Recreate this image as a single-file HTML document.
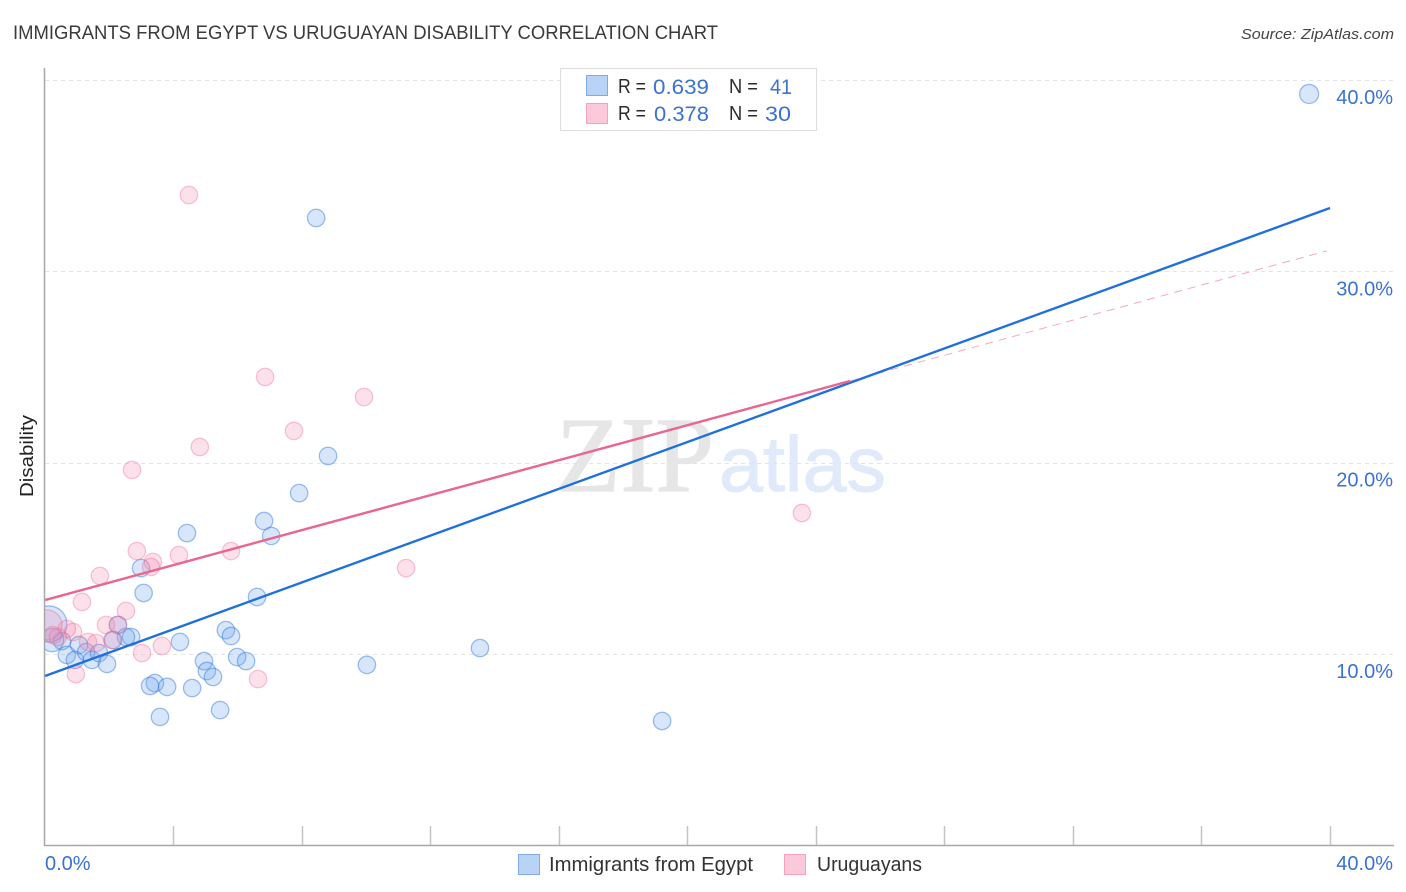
<!DOCTYPE html>
<html lang="en">
<head>
<meta charset="utf-8">
<title>Immigrants from Egypt vs Uruguayan Disability Correlation Chart</title>
<style>
html,body{margin:0;padding:0;background:#fff;}
svg{display:block;font-family:"Liberation Sans",sans-serif;}
</style>
</head>
<body>
<svg id="chart" width="1406" height="892" viewBox="0 0 1406 892" xmlns="http://www.w3.org/2000/svg">
  <defs>
    <clipPath id="plot-clip"><rect x="45" y="60" width="1349" height="785"></rect></clipPath>
  </defs>
  <rect x="0" y="0" width="1406" height="892" fill="#ffffff"></rect>
  <text x="13" y="39" font-size="19.5" fill="#3a3a3a" textLength="705" lengthAdjust="spacingAndGlyphs">IMMIGRANTS FROM EGYPT VS URUGUAYAN DISABILITY CORRELATION CHART</text>
  <text x="1394" y="39" font-size="15" font-style="italic" fill="#444444" text-anchor="end" textLength="153" lengthAdjust="spacingAndGlyphs">Source: ZipAtlas.com</text>

  <g>
    <text x="556" y="491" font-family="'Liberation Serif',serif" font-size="107" fill="#e6e6e6" stroke="#e6e6e6" stroke-width="1.2" textLength="158" lengthAdjust="spacingAndGlyphs">ZIP</text>
    <text x="719" y="491" font-size="78" fill="#e0eafa" stroke="#e0eafa" stroke-width="1" textLength="167" lengthAdjust="spacingAndGlyphs">atlas</text>
  </g>

  <g id="grid"></g>
  <g id="axes"></g>
  <g id="points" clip-path="url(#plot-clip)"></g>
  <g id="trends"></g>
  <g id="tick-labels"></g>

  <text transform="translate(33,456) rotate(-90)" font-size="18" fill="#222222" text-anchor="middle" textLength="82" lengthAdjust="spacingAndGlyphs">Disability</text>

  <g>
    <rect x="560.5" y="68.5" width="256" height="62" fill="#ffffff" stroke="#dddddd"></rect>
    <rect x="586.5" y="75.5" width="21" height="20" fill="#b9d3f6" stroke="#7fabe6"></rect>
    <rect x="586.5" y="103.5" width="21" height="20" fill="#fbc9d9" stroke="#f5a3bd"></rect>
    <g font-size="20" fill="#2b2b2b">
      <text x="618" y="93" textLength="28" lengthAdjust="spacingAndGlyphs">R =</text>
      <text x="729" y="93" textLength="29" lengthAdjust="spacingAndGlyphs">N =</text>
      <text x="618" y="120" textLength="28" lengthAdjust="spacingAndGlyphs">R =</text>
      <text x="729" y="120" textLength="29" lengthAdjust="spacingAndGlyphs">N =</text>
    </g>
    <g font-size="21" fill="#3a72d0">
      <text x="653" y="94" textLength="56" lengthAdjust="spacingAndGlyphs">0.639</text>
      <text x="770" y="94" textLength="22" lengthAdjust="spacingAndGlyphs">41</text>
      <text x="654" y="121" textLength="55" lengthAdjust="spacingAndGlyphs">0.378</text>
      <text x="765" y="121" textLength="26" lengthAdjust="spacingAndGlyphs">30</text>
    </g>
  </g>

  <g>
    <rect x="518.5" y="854.5" width="21" height="20" fill="#b9d3f6" stroke="#7fabe6"></rect>
    <text x="549" y="871" font-size="20" fill="#333333" textLength="204" lengthAdjust="spacingAndGlyphs">Immigrants from Egypt</text>
    <rect x="784.5" y="854.5" width="21" height="20" fill="#fbc9d9" stroke="#f5a3bd"></rect>
    <text x="817" y="871" font-size="20" fill="#333333" textLength="105" lengthAdjust="spacingAndGlyphs">Uruguayans</text>
  </g>
</svg>
<script>
// Chart data (percent values)
var yTickValues = [10, 20, 30, 40];
var yTickLabels = ['10.0%', '20.0%', '30.0%', '40.0%'];
var xTickValues = [4, 8, 12, 16, 20, 24, 28, 32, 36, 40];
var xEdgeLabels = ['0.0%', '40.0%'];

var egyptX = [39.35, 8.44, 8.81, 7.91, 6.82, 7.04, 4.42, 2.99, 3.07, 6.60, 2.27, 5.63, 5.79, 2.68, 2.52, 2.12, 4.20, 1.06, 0.53, 0.22, 13.54, 10.02, 5.98, 6.26, 4.95, 5.04, 5.23, 0.68, 0.93, 1.28, 1.46, 1.68, 1.93, 3.42, 3.27, 3.80, 4.58, 5.45, 3.58, 19.21, 0.12];
var egyptY = [39.27, 32.79, 20.35, 18.41, 16.95, 16.17, 16.32, 14.49, 13.19, 12.98, 11.52, 11.25, 10.94, 10.89, 10.89, 10.73, 10.63, 10.47, 10.68, 10.73, 10.31, 9.43, 9.84, 9.63, 9.63, 9.11, 8.80, 9.95, 9.69, 10.10, 9.69, 10.05, 9.48, 8.48, 8.33, 8.28, 8.22, 7.07, 6.71, 6.50, 11.57];
var egyptWeight = [1.2, 1, 1, 1, 1, 1, 1, 1, 1, 1, 1, 1, 1, 1, 1, 1, 1, 1, 1, 1.8, 1, 1, 1, 1, 1, 1, 1, 1, 1, 1, 1, 1, 1, 1, 1, 1, 1, 1, 1, 1, 4.3];

var uruguayX = [2.86, 3.36, 3.30, 4.17, 5.79, 1.71, 1.15, 2.52, 1.90, 2.27, 0.87, 0.68, 0.25, 0.40, 1.34, 1.59, 2.09, 3.64, 3.02, 0.96, 6.63, 4.48, 6.85, 9.93, 7.75, 4.82, 2.71, 23.56, 11.24, 0.06];
var uruguayY = [15.38, 14.81, 14.55, 15.17, 15.38, 14.08, 12.72, 12.25, 11.52, 11.52, 11.15, 11.31, 10.99, 10.89, 10.63, 10.57, 10.73, 10.42, 10.05, 8.95, 8.69, 33.99, 24.48, 23.43, 21.66, 20.82, 19.62, 17.37, 14.49, 11.52];
var uruguayWeight = [1, 1, 1, 1, 1, 1, 1, 1, 1, 1, 1, 1, 1, 1, 1, 1, 1, 1, 1, 1, 1, 1, 1, 1, 1, 1, 1, 1, 1, 3];

var egyptTrendX = [0, 40];
var egyptTrendY = [8.85, 33.31];
var uruguayTrendX = [0, 25.06];
var uruguayTrendY = [12.82, 24.27];
var uruguayProjectionX = [25.06, 39.9];
var uruguayProjectionY = [24.27, 31.07];

var NS = 'http://www.w3.org/2000/svg';
function xScale(v) { return 45 + v * 32.125; }
function yScale(v) { return 654 - (v - 10) * 19.133; }
function rScale(w) { return 8.7 * Math.sqrt(w); }
function make(tag, parent) {
  var el = document.createElementNS(NS, tag);
  parent.appendChild(el);
  return el;
}
function drawLine(parent, x1, y1, x2, y2, stroke, width, dash) {
  var l = make('line', parent);
  l.setAttribute('x1', x1);
  l.setAttribute('y1', y1);
  l.setAttribute('x2', x2);
  l.setAttribute('y2', y2);
  l.setAttribute('stroke', stroke);
  l.setAttribute('stroke-width', width);
  if (dash) l.setAttribute('stroke-dasharray', dash);
  return l;
}

var grid = document.getElementById('grid');
var axes = document.getElementById('axes');
var points = document.getElementById('points');
var trends = document.getElementById('trends');
var labels = document.getElementById('tick-labels');

yTickValues.forEach(function (v, i) {
  var y = Math.round(yScale(v)) + 0.5;
  var g = drawLine(grid, 45, y, 1394, y, '#e4e4e4', 1, '4 4');
  
  
  var t = make('text', labels);
  
  
  t.setAttribute('x', 1393);
  t.setAttribute('y', yScale(v) + 24);
  t.setAttribute('font-size', '20');
  t.setAttribute('fill', '#3a72d0');
  t.setAttribute('text-anchor', 'end');
  t.textContent = yTickLabels[i];
});

xTickValues.forEach(function (v) {
  var x = Math.floor(xScale(v)) + 0.5;
  var tick = drawLine(axes, x, 826, x, 845, '#c4c4c4', 1.5);
  
  
});

var yAxis = drawLine(axes, 44.5, 68, 44.5, 846, '#a8a8a8', 1.5);


var xAxis = drawLine(axes, 44, 845.5, 1394, 845.5, '#a8a8a8', 1.5);



var xLeft = make('text', labels);


xLeft.setAttribute('x', 45);
xLeft.setAttribute('y', 870);
xLeft.setAttribute('font-size', '20');
xLeft.setAttribute('fill', '#3a72d0');
xLeft.textContent = xEdgeLabels[0];

var xRight = make('text', labels);


xRight.setAttribute('x', 1393);
xRight.setAttribute('y', 870);
xRight.setAttribute('font-size', '20');
xRight.setAttribute('fill', '#3a72d0');
xRight.setAttribute('text-anchor', 'end');
xRight.textContent = xEdgeLabels[1];

function drawSeries(xs, ys, ws, fill, stroke, name) {
  xs.forEach(function (xv, i) {
    var c = make('circle', points);
    
    
    c.setAttribute('cx', xScale(xv));
    c.setAttribute('cy', yScale(ys[i]));
    c.setAttribute('r', rScale(ws[i]));
    c.setAttribute('fill', fill);
    c.setAttribute('stroke', stroke);
    c.setAttribute('stroke-width', '1.3');
  });
}
drawSeries(egyptX, egyptY, egyptWeight, 'rgba(110,165,240,0.28)', 'rgba(45,115,215,0.45)', 'egypt-point');
drawSeries(uruguayX, uruguayY, uruguayWeight, 'rgba(245,140,175,0.26)', 'rgba(235,100,145,0.36)', 'uruguayan-point');

var projection = drawLine(trends, xScale(uruguayProjectionX[0]), yScale(uruguayProjectionY[0]), xScale(uruguayProjectionX[1]), yScale(uruguayProjectionY[1]), '#eeaabf', 1, '8 6');


var egyptTrend = drawLine(trends, xScale(egyptTrendX[0]), yScale(egyptTrendY[0]), xScale(egyptTrendX[1]), yScale(egyptTrendY[1]), '#1f6fdc', 2.4);


var uruguayTrend = drawLine(trends, xScale(uruguayTrendX[0]), yScale(uruguayTrendY[0]), xScale(uruguayTrendX[1]), yScale(uruguayTrendY[1]), '#e8668f', 2.4);


</script>
</body>
</html>
